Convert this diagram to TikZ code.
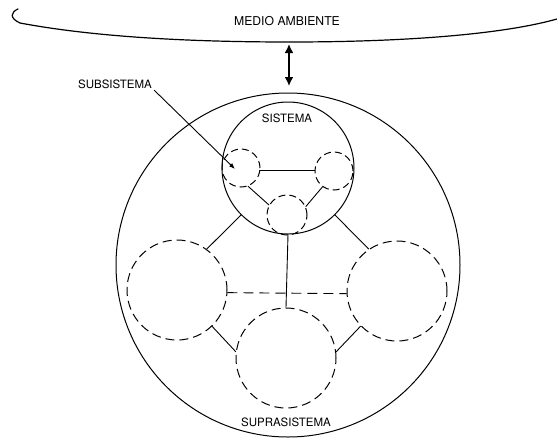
\documentclass[tikz,border=0pt]{standalone}
\usepackage{fontspec}
\setmainfont{TeX Gyre Heros}
\usetikzlibrary{arrows.meta}
\begin{document}
\begin{tikzpicture}[x=1pt,y=-1pt,
  solidc/.style={circle,draw,line width=1pt,inner sep=0pt},
  dashc/.style={circle,draw,line width=1pt,inner sep=0pt,dash pattern=on 9pt off 5pt},
  link/.style={line width=0.9pt},
  dlink/.style={line width=0.9pt,dash pattern=on 10pt off 6pt},
  lab/.style={font=\fontsize{11.5}{13}\selectfont,inner sep=0pt}]
\useasboundingbox (0,0) rectangle (557,440);
% environment
\draw[line width=1.2pt,line cap=round] (18,9) .. controls (11,12) and (9,18) .. (20,23)
  .. controls (100,38) and (200,42) .. (290,42)
  .. controls (400,42) and (500,35) .. (557,19);
\node[lab,font=\fontsize{12.2}{14}\selectfont] (env) at (287,21) {MEDIO AMBIENTE};
% suprasystem
\node[solidc,minimum size=344pt] (big) at (288,265) {};
\node[lab] (supra) at (286,422.5) {SUPRASISTEMA};
% system
\node[solidc,minimum size=132pt] (sys) at (288,168) {};
\node[lab] (syslab) at (287,118.5) {SISTEMA};
% subsystems inside system
\node[dashc,minimum size=38pt,dash pattern=on 7pt off 4pt] (sl) at (241,168) {};
\node[dashc,minimum size=38pt,dash pattern=on 7pt off 4pt] (sr) at (334,171) {};
\node[dashc,minimum size=40pt,dash pattern=on 7pt off 4pt] (sb) at (287,215) {};
\draw[link] (sl.-6) -- (sl.-6 -| sr.west);
\draw[link] (sl.-69) -- (sb.151);
\draw[link] (sr.-126) -- (sb.24);
% other systems
\node[dashc,minimum size=100pt] (L) at (177,290) {};
\node[dashc,minimum size=100pt] (R) at (397,291) {};
\node[dashc,minimum size=100pt] (B) at (286,358) {};
\draw[link] (L.54) -- (sys.225);
\draw[link] (R.124) -- (sys.-45);
\draw[link] (sys.south) -- (B.north);
\draw[dlink] (L.-3) -- (R.183);
\draw[link] (L.-46) -- (B.173);
\draw[link] (R.224) -- (B.7);
% double arrow
\coordinate (at) at (289,44);
\coordinate (ab) at (289,86);
\draw[line width=1.7pt,{Latex[length=9pt,width=9pt]}-{Latex[length=9pt,width=9pt]}] (at) -- (ab);
% subsystem label
\node[lab] (sub) at (115,84.5) {SUBSISTEMA};
\coordinate (tip) at (235,169);
\draw[line width=0.9pt,-{Latex[length=6pt,width=4.5pt]}] (sub.south east) ++(2,1) coordinate (subs) -- (tip);
\end{tikzpicture}
\end{document}
